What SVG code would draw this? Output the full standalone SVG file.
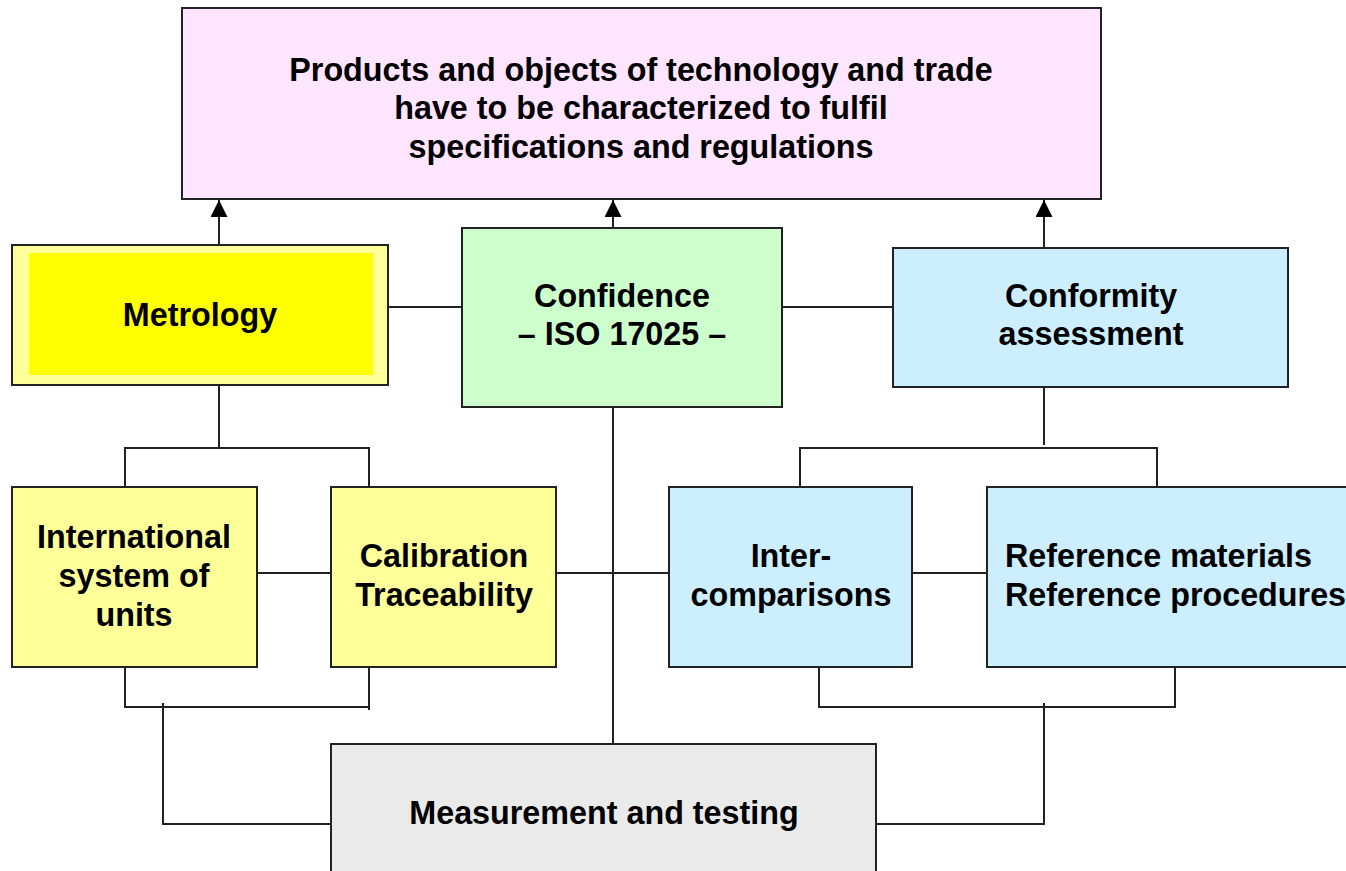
<svg xmlns="http://www.w3.org/2000/svg" width="1346" height="871" viewBox="0 0 1346 871">
<defs>
<style>
.box{stroke:#222;stroke-width:2}
.t{font-family:"Liberation Sans",Arial,sans-serif;font-weight:bold;font-size:32.3px;fill:#000;text-anchor:middle}
.c{fill:none;stroke:#222;stroke-width:2}
</style>
<marker id="ah" viewBox="0 0 10 10" refX="10" refY="5" markerWidth="17" markerHeight="17" markerUnits="userSpaceOnUse" orient="auto">
<path d="M0,0 L10,5 L0,10 z" fill="#000"/>
</marker>
</defs>
<rect width="1346" height="871" fill="#fff"/>
<g id="connectors">
<path class="c" d="M219,245 V200" marker-end="url(#ah)"/>
<path class="c" d="M613,228 V200" marker-end="url(#ah)"/>
<path class="c" d="M1044,248 V200" marker-end="url(#ah)"/>
<path class="c" d="M388,307 H462"/>
<path class="c" d="M782,307 H893"/>
<path class="c" d="M219,385 V448 M125,487 V448 H369 V487"/>
<path class="c" d="M1044,387 V445 M800,487 V448 H1157 V487"/>
<path class="c" d="M257,573 H331"/>
<path class="c" d="M556,573 H669"/>
<path class="c" d="M912,573 H987"/>
<path class="c" d="M613,407 V745"/>
<path class="c" d="M125,667 V707 H369 M369,667 V710"/>
<path class="c" d="M163,703 V824 H331"/>
<path class="c" d="M819,667 V707 H1175 V667"/>
<path class="c" d="M1044,703 V824 H876"/>
</g>
<g id="top">
<rect class="box" x="182" y="8" width="919" height="191" fill="#ffe5ff"/>
<text class="t" x="641" y="81">Products and objects of technology and trade</text>
<text class="t" x="641" y="119">have to be characterized to fulfil</text>
<text class="t" x="641" y="158">specifications and regulations</text>
</g>
<g id="metrology">
<rect class="box" x="12" y="245" width="376" height="140" fill="#ffff99"/>
<rect x="29" y="253" width="344" height="122" fill="#ffff00"/>
<text class="t" x="200" y="326">Metrology</text>
</g>
<g id="confidence">
<rect class="box" x="462" y="228" width="320" height="179" fill="#ccffcc"/>
<text class="t" x="622" y="307">Confidence</text>
<text class="t" x="622" y="345">– ISO 17025 –</text>
</g>
<g id="conformity">
<rect class="box" x="893" y="248" width="395" height="139" fill="#cceeff"/>
<text class="t" x="1091" y="307">Conformity</text>
<text class="t" x="1091" y="345">assessment</text>
</g>
<g id="si">
<rect class="box" x="12" y="487" width="245" height="180" fill="#ffff99"/>
<text class="t" x="134" y="548">International</text>
<text class="t" x="134" y="587">system of</text>
<text class="t" x="134" y="626">units</text>
</g>
<g id="calibration">
<rect class="box" x="331" y="487" width="225" height="180" fill="#ffff99"/>
<text class="t" x="444" y="567">Calibration</text>
<text class="t" x="444" y="606">Traceability</text>
</g>
<g id="intercomparisons">
<rect class="box" x="669" y="487" width="243" height="180" fill="#cceeff"/>
<text class="t" x="791" y="567">Inter-</text>
<text class="t" x="791" y="606">comparisons</text>
</g>
<g id="reference">
<rect class="box" x="987" y="487" width="380" height="180" fill="#cceeff"/>
<text class="t" x="1005" y="567" style="text-anchor:start">Reference materials</text>
<text class="t" x="1005" y="606" style="text-anchor:start">Reference procedures</text>
</g>
<g id="measurement">
<rect class="box" x="331" y="744" width="545" height="140" fill="#eaeaea"/>
<text class="t" x="604" y="824">Measurement and testing</text>
</g>
</svg>
